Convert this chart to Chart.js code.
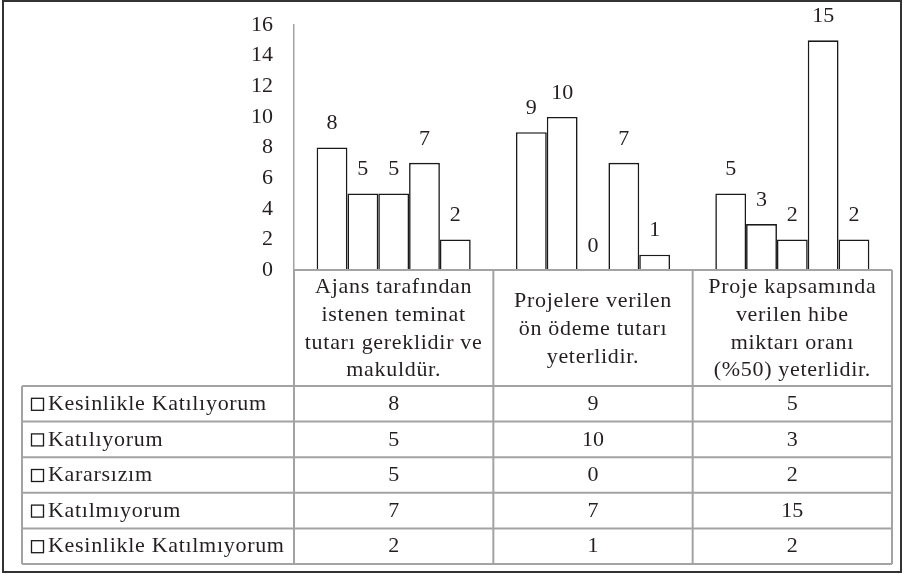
<!DOCTYPE html>
<html>
<head>
<meta charset="utf-8">
<script src="https://cdn.jsdelivr.net/npm/chart.js@4.4.1/dist/chart.umd.min.js"></script>
<style>
  html, body { margin: 0; padding: 0; background: #ffffff; }
  #wrap { width: 905px; height: 576px; position: relative; }
  .pre { font-family: "Liberation Serif"; position: absolute; left: -9999px; }
</style>
</head>
<body>
<span class="pre">Ajans tarafından 0123456789</span>
<div id="wrap"><canvas id="c" width="905" height="576"></canvas></div>
<script>
// ---- data ----
const categories = [
  ["Ajans tarafından", "istenen teminat", "tutarı gereklidir ve", "makuldür."],
  ["Projelere verilen", "ön ödeme tutarı", "yeterlidir."],
  ["Proje kapsamında", "verilen hibe", "miktarı oranı", "(%50) yeterlidir."]
];
const seriesNames = [
  "Kesinlikle Katılıyorum",
  "Katılıyorum",
  "Kararsızım",
  "Katılmıyorum",
  "Kesinlikle Katılmıyorum"
];
const kesinlikleKatiliyorum = [8, 9, 5];
const katiliyorum = [5, 10, 3];
const kararsizim = [5, 0, 2];
const katilmiyorum = [7, 7, 15];
const kesinlikleKatilmiyorum = [2, 1, 2];
const yMin = 0, yMax = 16, yStep = 2;

const seriesValues = [kesinlikleKatiliyorum, katiliyorum, kararsizim, katilmiyorum, kesinlikleKatilmiyorum];

const FONT = '"Liberation Serif", serif';
const NUM_SIZE = 22;
const TXT_SIZE = 22;
const TXT_SPACING = '0.7px';
const TEXT = '#231f20';
const GRID = '#a3a3a3';

const datasets = seriesNames.map((name, i) => ({
  label: name,
  data: seriesValues[i],
  backgroundColor: '#ffffff',
  borderColor: '#1a1a1a',
  borderWidth: 1.6,
  categoryPercentage: 0.773,
  barPercentage: 1.0
}));

const frame = {
  id: 'frame',
  beforeDraw(chart) {
    const ctx = chart.ctx;
    ctx.save();
    ctx.fillStyle = '#ffffff';
    ctx.fillRect(0, 0, chart.width, chart.height);
    ctx.restore();
  },
  afterDraw(chart) {
    const ctx = chart.ctx;
    const area = chart.chartArea;
    const xs = chart.scales.x;
    const numFont = NUM_SIZE + 'px ' + FONT;
    const txtFont = TXT_SIZE + 'px ' + FONT;
    const setTxt = () => { ctx.font = txtFont; if ('letterSpacing' in ctx) ctx.letterSpacing = TXT_SPACING; };
    const setNum = () => { ctx.font = numFont; if ('letterSpacing' in ctx) ctx.letterSpacing = '0px'; };
    ctx.save();
    // data labels
    setNum();
    ctx.fillStyle = TEXT;
    ctx.textAlign = 'center';
    ctx.textBaseline = 'middle';
    chart.data.datasets.forEach((ds, di) => {
      const meta = chart.getDatasetMeta(di);
      meta.data.forEach((el, j) => {
        ctx.fillText(String(ds.data[j]), el.x, el.y - 24);
      });
    });

    // data table
    const n = categories.length;
    const colW = (area.right - area.left) / n;
    const top = area.bottom;
    const headerBottom = top + 116;
    const rowH = 35.6;
    const nRows = seriesNames.length;
    const tableBottom = headerBottom + rowH * nRows;
    const leftX = 22;

    ctx.strokeStyle = GRID;
    ctx.lineWidth = 2;
    ctx.beginPath();
    ctx.moveTo(area.left, top);
    ctx.lineTo(area.right, top);
    ctx.stroke();
    for (let k = 0; k <= n; k++) {
      const x = area.left + k * colW;
      ctx.beginPath();
      ctx.moveTo(x, top);
      ctx.lineTo(x, tableBottom);
      ctx.stroke();
    }
    for (let r = 0; r <= nRows; r++) {
      const y = headerBottom + r * rowH;
      ctx.beginPath();
      ctx.moveTo(leftX, y);
      ctx.lineTo(area.right, y);
      ctx.stroke();
    }
    ctx.beginPath();
    ctx.moveTo(leftX, headerBottom);
    ctx.lineTo(leftX, tableBottom);
    ctx.stroke();

    // header text
    ctx.fillStyle = TEXT;
    ctx.textAlign = 'center';
    ctx.textBaseline = 'middle';
    setTxt();
    const lineH = 27.8;
    categories.forEach((lines, k) => {
      const cx = xs.getPixelForValue(k);
      const cy = (top + headerBottom) / 2 + 1;
      const start = cy - (lines.length - 1) * lineH / 2;
      lines.forEach((t, li) => ctx.fillText(t, cx, start + li * lineH));
    });

    // rows
    seriesNames.forEach((name, r) => {
      const cy = headerBottom + r * rowH + rowH / 2 + 0.5;
      ctx.strokeStyle = '#1a1a1a';
      ctx.lineWidth = 1.3;
      ctx.strokeRect(31.5, cy - 6, 12, 12);
      ctx.textAlign = 'left';
      ctx.fillStyle = TEXT;
      setTxt();
      ctx.fillText(name, 48, cy);
      ctx.textAlign = 'center';
      setNum();
      seriesValues[r].forEach((v, k) => {
        ctx.fillText(String(v), xs.getPixelForValue(k), cy);
      });
    });

    ctx.strokeStyle = '#333333';
    ctx.lineWidth = 2;
    ctx.strokeRect(3, 1, 898, 571);
    ctx.restore();
  }
};

function build() {
  new Chart(document.getElementById('c'), {
    type: 'bar',
    data: { labels: categories.map(c => c.join(' ')), datasets },
    options: {
      responsive: false,
      animation: false,
      layout: { padding: { left: 0, right: 13, top: 25, bottom: 306 } },
      plugins: { legend: { display: false }, tooltip: { enabled: false } },
      scales: {
        x: { display: false, offset: true },
        y: {
          min: yMin, max: yMax,
          afterFit(s) { s.width = 294; s.paddingTop = 0; s.paddingBottom = 0; },
          ticks: { stepSize: yStep, padding: 21, color: TEXT, font: { family: FONT, size: NUM_SIZE } },
          grid: { display: false, drawTicks: false },
          border: { display: true, color: GRID, width: 1.5 }
        }
      }
    },
    plugins: [frame]
  });
}

let built = false;
function go() { if (!built) { built = true; build(); } }
if (document.fonts && document.fonts.load) {
  document.fonts.load('22px "Liberation Serif"').then(go, go);
  setTimeout(go, 1500);
} else {
  go();
}
</script>
</body>
</html>
